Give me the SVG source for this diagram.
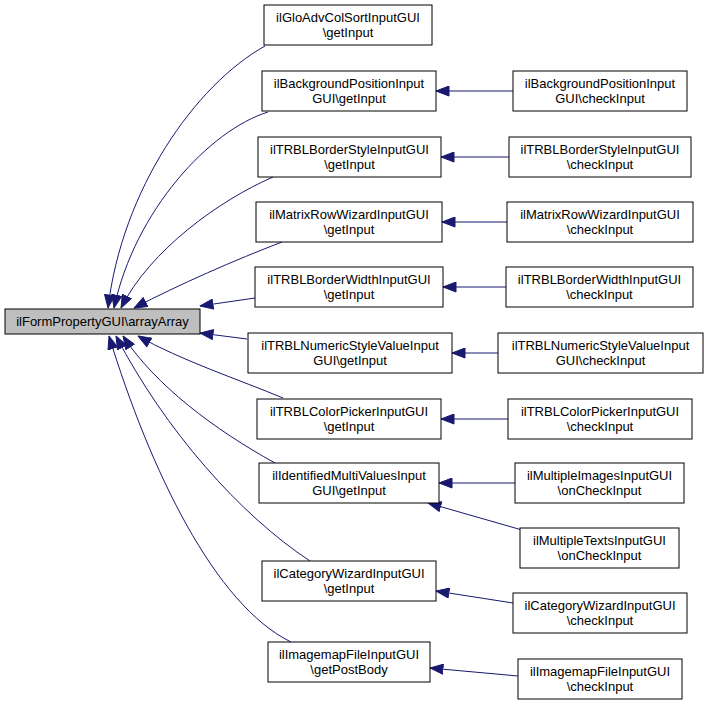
<svg xmlns="http://www.w3.org/2000/svg" width="707" height="705" viewBox="0 0 707 705">
<style>
.n rect{fill:#fff;stroke:#000;stroke-width:1}
.root rect{fill:#bfbfbf}
text{font-family:"Liberation Sans",Arial,Helvetica,sans-serif;font-size:13px;text-anchor:middle;fill:#000}
.e path{fill:none;stroke:#191970;stroke-width:1;marker-end:url(#a)}
</style>
<defs>
<marker id="a" viewBox="0 0 14 11" refX="13.5" refY="5.5" markerWidth="14" markerHeight="11" markerUnits="userSpaceOnUse" orient="auto">
<path d="M0.5,0.5 L13.5,5.5 L0.5,10.5 Z" fill="#191970" stroke="#191970" stroke-width="1"/>
</marker>
</defs>
<rect width="707" height="705" fill="#fff"/>
<g class="e" id="connectors">
<path d="M265,46 C195,85 122,190 108,308"/>
<path d="M268,112 C210,130 135,210 114,308"/>
<path d="M273,177 C220,200 150,250 121,308"/>
<path d="M282,242 C235,260 180,284 134,308"/>
<path d="M255,298 L200,306"/>
<path d="M247,339 L200,333"/>
<path d="M283,398 C240,380 180,360 138,336"/>
<path d="M275,463 C215,430 155,385 123,336"/>
<path d="M310,561 C240,515 165,430 116,336"/>
<path d="M291,642 C215,605 150,470 109,336"/>
<path d="M513,91 L436,91"/>
<path d="M509,157 L441,157"/>
<path d="M507,222 L442,222"/>
<path d="M506,287 L443,287"/>
<path d="M498,353 L452,353"/>
<path d="M508,419 L441,419"/>
<path d="M515,483 L439,483"/>
<path d="M522,530 L428,503"/>
<path d="M513,603 L436,591"/>
<path d="M518,676 L430,668"/>
</g>
<g class="n root" id="root"><rect x="5" y="309" width="195" height="25"/><text x="102.5" y="326">ilFormPropertyGUI\arrayArray</text></g>
<g class="n" id="m1"><rect x="264" y="5" width="168" height="40"/><text x="348" y="22">ilGloAdvColSortInputGUI</text><text x="348" y="37">\getInput</text></g>
<g class="n" id="m2"><rect x="262" y="71" width="174" height="40"/><text x="349" y="88">ilBackgroundPositionInput</text><text x="349" y="103">GUI\getInput</text></g>
<g class="n" id="m3"><rect x="258" y="137" width="183" height="40"/><text x="349.5" y="154">ilTRBLBorderStyleInputGUI</text><text x="349.5" y="169">\getInput</text></g>
<g class="n" id="m4"><rect x="256" y="202" width="186" height="40"/><text x="349" y="219">ilMatrixRowWizardInputGUI</text><text x="349" y="234">\getInput</text></g>
<g class="n" id="m5"><rect x="255" y="267" width="188" height="40"/><text x="349" y="284">ilTRBLBorderWidthInputGUI</text><text x="349" y="299">\getInput</text></g>
<g class="n" id="m6"><rect x="248" y="333" width="204" height="40"/><text x="350" y="350">ilTRBLNumericStyleValueInput</text><text x="350" y="365">GUI\getInput</text></g>
<g class="n" id="m7"><rect x="257" y="399" width="184" height="40"/><text x="349" y="416">ilTRBLColorPickerInputGUI</text><text x="349" y="431">\getInput</text></g>
<g class="n" id="m8"><rect x="259" y="463" width="180" height="40"/><text x="349" y="480">ilIdentifiedMultiValuesInput</text><text x="349" y="495">GUI\getInput</text></g>
<g class="n" id="m9"><rect x="262" y="561" width="174" height="40"/><text x="349" y="578">ilCategoryWizardInputGUI</text><text x="349" y="593">\getInput</text></g>
<g class="n" id="m10"><rect x="268" y="642" width="162" height="40"/><text x="349" y="659">ilImagemapFileInputGUI</text><text x="349" y="674">\getPostBody</text></g>
<g class="n" id="r2"><rect x="513" y="71" width="174" height="40"/><text x="600" y="88">ilBackgroundPositionInput</text><text x="600" y="103">GUI\checkInput</text></g>
<g class="n" id="r3"><rect x="509" y="137" width="182" height="40"/><text x="600" y="154">ilTRBLBorderStyleInputGUI</text><text x="600" y="169">\checkInput</text></g>
<g class="n" id="r4"><rect x="507" y="202" width="186" height="40"/><text x="600" y="219">ilMatrixRowWizardInputGUI</text><text x="600" y="234">\checkInput</text></g>
<g class="n" id="r5"><rect x="506" y="267" width="187" height="40"/><text x="599.5" y="284">ilTRBLBorderWidthInputGUI</text><text x="599.5" y="299">\checkInput</text></g>
<g class="n" id="r6"><rect x="498" y="333" width="205" height="40"/><text x="600.5" y="350">ilTRBLNumericStyleValueInput</text><text x="600.5" y="365">GUI\checkInput</text></g>
<g class="n" id="r7"><rect x="508" y="399" width="184" height="40"/><text x="600" y="416">ilTRBLColorPickerInputGUI</text><text x="600" y="431">\checkInput</text></g>
<g class="n" id="r8"><rect x="515" y="463" width="169" height="40"/><text x="599.5" y="480">ilMultipleImagesInputGUI</text><text x="599.5" y="495">\onCheckInput</text></g>
<g class="n" id="r9"><rect x="520" y="528" width="159" height="40"/><text x="599.5" y="545">ilMultipleTextsInputGUI</text><text x="599.5" y="560">\onCheckInput</text></g>
<g class="n" id="r10"><rect x="513" y="593" width="174" height="40"/><text x="600" y="610">ilCategoryWizardInputGUI</text><text x="600" y="625">\checkInput</text></g>
<g class="n" id="r11"><rect x="518" y="659" width="164" height="40"/><text x="600" y="676">ilImagemapFileInputGUI</text><text x="600" y="691">\checkInput</text></g>
</svg>
